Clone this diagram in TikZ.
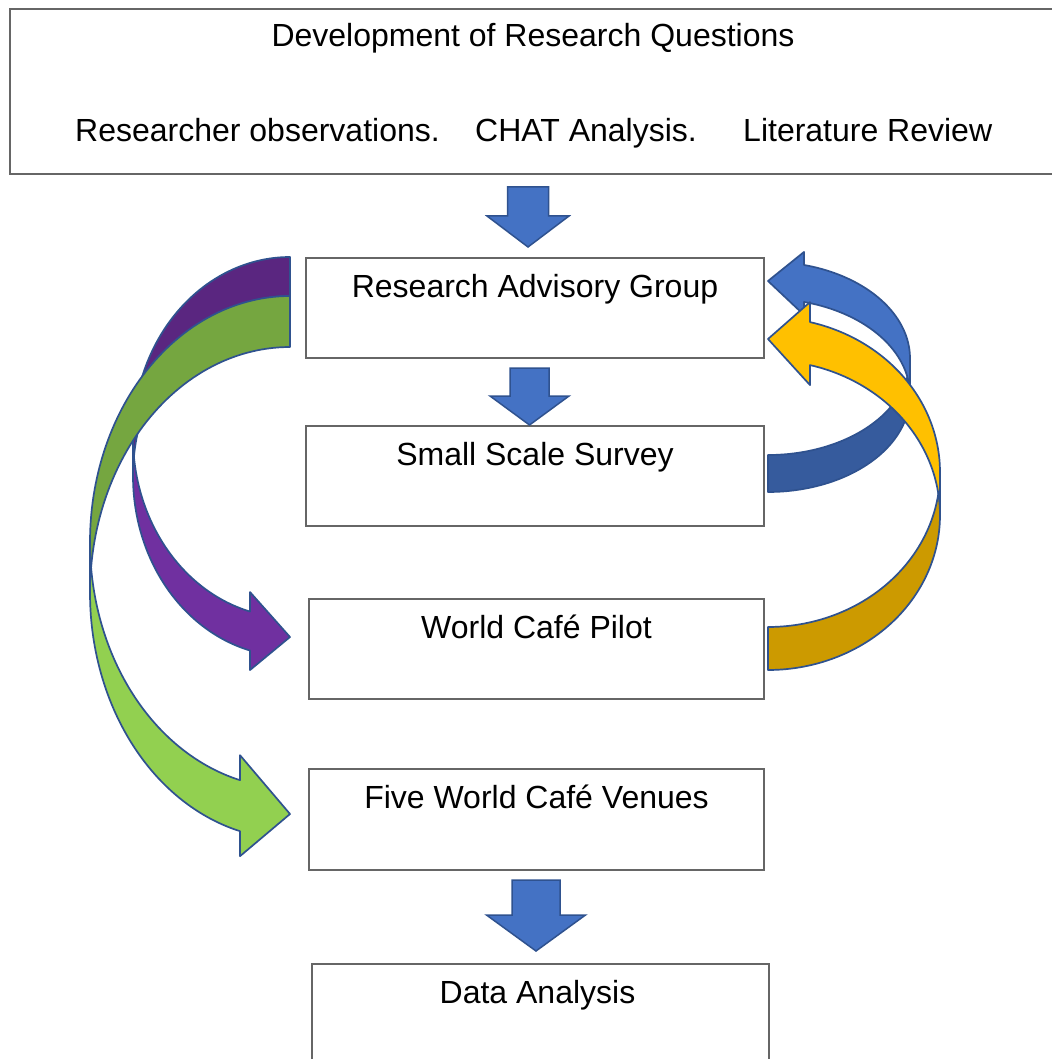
\documentclass[tikz,border=0pt]{standalone}
\usepackage{fontspec}
\setmainfont{Liberation Sans}
\usetikzlibrary{calc}

\definecolor{bluefront}{HTML}{4472C4}
\definecolor{blueback}{HTML}{365B9D}
\definecolor{arrowedge}{HTML}{2F528F}
\definecolor{purplefront}{HTML}{7030A0}
\definecolor{purpleback}{HTML}{5A2680}
\definecolor{greenfront}{HTML}{92D050}
\definecolor{greenback}{HTML}{75A640}
\definecolor{goldfront}{HTML}{FFC000}
\definecolor{goldback}{HTML}{CC9A00}
\definecolor{boxedge}{HTML}{666666}

% Downward block arrow: centre x, top y, half shaft width, head y, half head width, tip y
\newcommand{\blockdown}[6]{%
  \draw[blockarrow] ({#1-#3},#2) -- ({#1+#3},#2) -- ({#1+#3},#4) -- ({#1+#5},#4)
    -- (#1,#6) -- ({#1-#5},#4) -- ({#1-#3},#4) -- cycle;}

% Curved band arrow (tail at the given corner, bending out and back to an arrow head).
% #1 tail corner, #2 extra scope options, #3 horizontal radius, #4 band thickness,
% #5 vertical radius, #6 head length, #7 barb overhang, #8 tip offset, #9 colour prefix
\newcommand{\bandarrow}[9]{%
  \pgfmathsetmacro\bandphi{180-acos(#6/#3)}%
  \pgfmathsetmacro\bandyv{#5+#5*sin(\bandphi)}%
  \pgfmathsetmacro\bandyvii{\bandyv+#4}%
  \begin{scope}[shift={(#1)},#2]
    \filldraw[bandedge, fill=#9back]
      plot[domain=270:180, samples=60] ({#3*cos(\x)},{#5+#5*sin(\x)})
      -- plot[domain=180:270, samples=60] ({#3*cos(\x)},{#4+#5+#5*sin(\x)}) -- cycle;
    \filldraw[bandedge, fill=#9front]
      plot[domain=180:\bandphi, samples=60] ({#3*cos(\x)},{#5+#5*sin(\x)})
      -- (-#6,{\bandyv-#7}) -- (0,#8) -- (-#6,{\bandyvii+#7}) -- (-#6,\bandyvii)
      -- plot[domain=\bandphi:180, samples=60] ({#3*cos(\x)},{#4+#5+#5*sin(\x)}) -- cycle;
  \end{scope}}

\begin{document}
\begin{tikzpicture}[x=1pt,y=-1pt,
  procbox/.style={draw=boxedge, line width=1.6pt, fill=white, rectangle,
    inner xsep=0pt, inner ysep=0pt, text height=40pt, anchor=north,
    font=\fontsize{32}{38}\selectfont},
  labeltext/.style={font=\fontsize{32}{38}\selectfont, inner sep=0pt},
  blockarrow/.style={fill=bluefront, draw=arrowedge, line width=1.5pt, line join=miter},
  bandedge/.style={draw=arrowedge, line width=1.7pt, line join=round}]
\useasboundingbox (0,0) rectangle (1051,1059);
\fill[white] (0,0) rectangle (1051,1059);

% top box with its title and sources
\node[procbox, minimum width=1055pt, text depth=125pt] (dev) at (537.5,8) {};
\node[labeltext, anchor=base] (devtitle) at (533,47) {Development of Research Questions};
\node[labeltext, anchor=base west] (obs) at (75,142) {Researcher observations.};
\node[labeltext, anchor=base west] (chat) at (475,142) {CHAT Analysis.};
\node[labeltext, anchor=base west] (lit) at (743,142) {Literature Review};

% process boxes
\node[procbox, minimum width=458pt, text depth=60pt] (rag) at (535,257) {Research Advisory Group};
\node[procbox, minimum width=458pt, text depth=60pt] (survey) at (535,425) {Small Scale Survey};
\node[procbox, minimum width=455pt, text depth=60pt] (pilot) at (536.5,598) {World Café Pilot};
\node[procbox, minimum width=455pt, text depth=61pt] (venues) at (536.5,768) {Five World Café Venues};
\node[procbox, minimum width=457pt, text depth=80pt] (analysis) at (540.5,963) {\hspace*{-6pt}Data Analysis};

% straight flow arrows
\blockdown{528}{187}{20.5}{216}{41}{247}
\blockdown{529.5}{368}{19.5}{396}{39.5}{425}
\blockdown{536}{880}{24}{915}{49.5}{951}

% curved feedback arrows
\coordinate (purpletail) at (290,257);
\coordinate (greentail) at (290,296);
\coordinate (bluetail) at (768,492);
\coordinate (goldtail) at (768,670);
\bandarrow{purpletail}{}{157}{39}{180.25}{40}{19.5}{380}{purple}
\bandarrow{greentail}{}{200}{51}{246}{50}{25}{518}{green}
\bandarrow{bluetail}{xscale=-1,yscale=-1}{142}{37}{96.6}{36}{13}{211}{blue}
\bandarrow{goldtail}{xscale=-1,yscale=-1}{172}{43}{154.8}{42}{20}{331}{gold}
\end{tikzpicture}
\end{document}
